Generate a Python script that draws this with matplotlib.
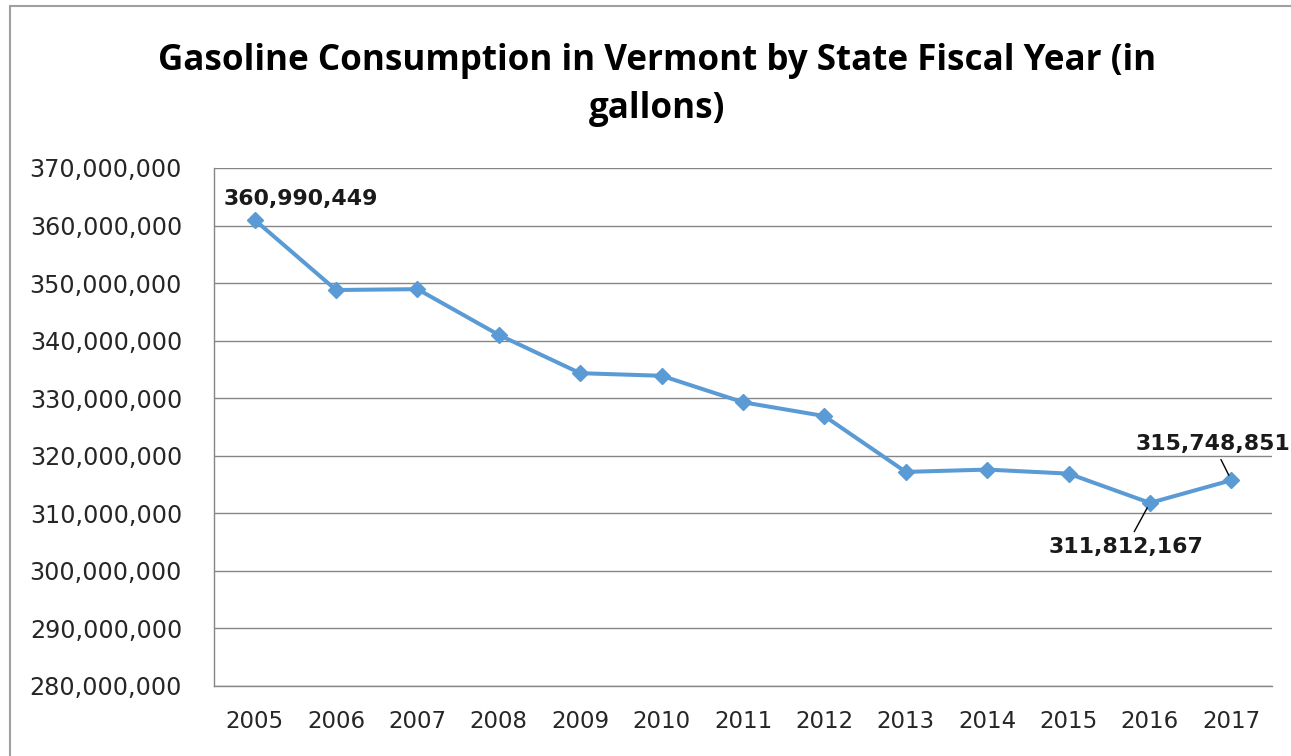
import matplotlib
matplotlib.use("Agg")
import matplotlib.pyplot as plt
from matplotlib.patches import Rectangle
from matplotlib.ticker import FuncFormatter

years = ["2005", "2006", "2007", "2008", "2009", "2010", "2011",
         "2012", "2013", "2014", "2015", "2016", "2017"]
gallons = [360990449, 348800000, 348950000, 341000000, 334350000, 333900000,
           329300000, 326900000, 317200000, 317600000, 316900000,
           311812167, 315748851]
labelled = {0: (46, 21), 12: (-18, 36), 11: (-24, -44)}

W, H = 1291, 756
fig = plt.figure(figsize=(W / 100, H / 100), dpi=100)
fig.patch.set_facecolor("white")

# outer chart border
fig.patches.append(Rectangle((10 / W, -0.05), 1.1, 1 - 6 / H + 0.05,
                             transform=fig.transFigure, fill=False,
                             edgecolor="#a0a0a0", linewidth=1.5))

left, right, top, bottom = 214 / W, 1272 / W, 1 - 168 / H, 1 - 686 / H
ax = fig.add_axes([left, bottom, right - left, top - bottom])

x = list(range(len(years)))
ax.plot(x, gallons, color="#5B9BD5", linewidth=2.9, marker="D",
        markersize=8, markerfacecolor="#5B9BD5", markeredgecolor="#5B9BD5",
        zorder=3)

ax.set_xlim(-0.5, len(years) - 0.5)
ax.set_ylim(280000000, 370000000)
ax.set_yticks(range(280000000, 370000001, 10000000))
ax.yaxis.set_major_formatter(FuncFormatter(lambda v, p: f"{int(v):,}"))
ax.set_xticks(x)
ax.set_xticklabels(years)

ax.grid(axis="y", color="#868686", linewidth=1.0)
ax.set_axisbelow(True)
for s in ["top", "right"]:
    ax.spines[s].set_visible(False)
for s in ["left", "bottom"]:
    ax.spines[s].set_color("#868686")
    ax.spines[s].set_linewidth(1.0)
ax.tick_params(axis="both", length=0, labelsize=17.2, colors="#262626",
               labelfontfamily="DejaVu Sans")
ax.tick_params(axis="y", pad=23)
ax.tick_params(axis="x", pad=17)
ax.tick_params(axis="x", labelsize=16.5)

for i, (dx, dy) in labelled.items():
    ax.annotate(f"{gallons[i]:,}", xy=(x[i], gallons[i]), xytext=(dx, dy),
                textcoords="offset pixels", ha="center", va="center",
                fontsize=15.8, fontweight="bold", family="DejaVu Sans",
                color="#1a1a1a", annotation_clip=False,
                arrowprops=None if i == 0 else dict(arrowstyle="-", color="black",
                                                     linewidth=1.0, shrinkA=2, shrinkB=4))

fig.text(0.5 * (158 + 1156) / W, 1 - 85 / H,
         "Gasoline Consumption in Vermont by State Fiscal Year (in\ngallons)",
         ha="center", va="center", fontsize=25.2, fontweight="bold",
         family="Open Sans", color="black", linespacing=1.45)

fig.savefig("out.png", dpi=100, facecolor="white")
